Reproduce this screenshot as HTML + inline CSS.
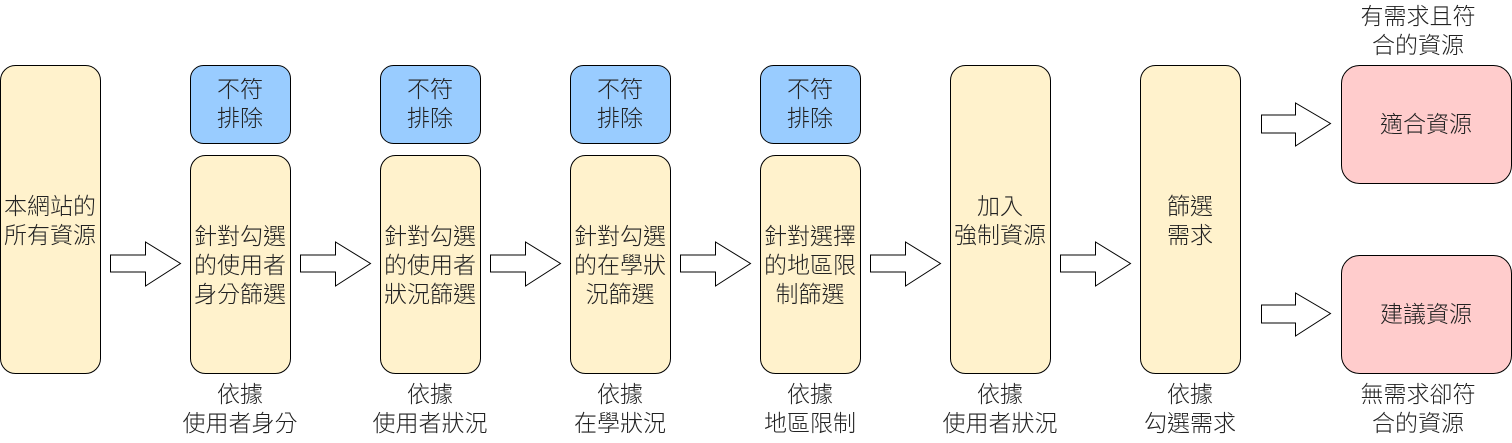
<!DOCTYPE html>
<html><head><meta charset="utf-8"><style>
html,body{margin:0;padding:0;background:#fff}
svg text{font-family:"Liberation Sans","Noto Sans CJK TC",sans-serif;font-size:23px;font-weight:300;fill:#222;text-anchor:middle}
</style></head><body>
<svg width="1512" height="438" viewBox="0 0 1512 438" xmlns="http://www.w3.org/2000/svg">
<g stroke="#000" stroke-width="1">
<rect x="0.5" y="65.5" width="100" height="308" rx="15" fill="#fff2cc"/>
<rect x="190.5" y="65.5" width="100" height="78" rx="13" fill="#99ccff"/>
<rect x="380.5" y="65.5" width="100" height="78" rx="13" fill="#99ccff"/>
<rect x="570.5" y="65.5" width="100" height="78" rx="13" fill="#99ccff"/>
<rect x="760.5" y="65.5" width="100" height="78" rx="13" fill="#99ccff"/>
<rect x="190.5" y="155.5" width="100" height="218" rx="15" fill="#fff2cc"/>
<rect x="380.5" y="155.5" width="100" height="218" rx="15" fill="#fff2cc"/>
<rect x="570.5" y="155.5" width="100" height="218" rx="15" fill="#fff2cc"/>
<rect x="760.5" y="155.5" width="100" height="218" rx="15" fill="#fff2cc"/>
<rect x="950.5" y="65.5" width="100" height="308" rx="15" fill="#fff2cc"/>
<rect x="1140.5" y="65.5" width="100" height="308" rx="15" fill="#fff2cc"/>
<rect x="1341.5" y="65.5" width="170" height="118" rx="18" fill="#ffcccc"/>
<rect x="1341.5" y="255.5" width="170" height="118" rx="18" fill="#ffcccc"/>
<g fill="#fff">
<polygon points="110.5,255 145.5,255 145.5,242 180.5,263.5 145.5,286 145.5,272 110.5,272"/>
<polygon points="300.5,255 335.5,255 335.5,242 370.5,263.5 335.5,286 335.5,272 300.5,272"/>
<polygon points="490.5,255 525.5,255 525.5,242 560.5,263.5 525.5,286 525.5,272 490.5,272"/>
<polygon points="680.5,255 715.5,255 715.5,242 750.5,263.5 715.5,286 715.5,272 680.5,272"/>
<polygon points="870.5,255 905.5,255 905.5,242 940.5,263.5 905.5,286 905.5,272 870.5,272"/>
<polygon points="1060.5,255 1095.5,255 1095.5,242 1130.5,263.5 1095.5,286 1095.5,272 1060.5,272"/>
<polygon points="1261.5,115 1295.5,115 1295.5,103 1330.5,123.5 1295.5,146 1295.5,133 1261.5,133"/>
<polygon points="1261.5,305 1295.5,305 1295.5,293 1330.5,313.5 1295.5,336 1295.5,323 1261.5,323"/>
</g></g>
<text x="50" y="214">本網站的</text><text x="50" y="243">所有資源</text>
<g>
<text x="240" y="97">不符</text><text x="240" y="126">排除</text>
<text x="430" y="97">不符</text><text x="430" y="126">排除</text>
<text x="620" y="97">不符</text><text x="620" y="126">排除</text>
<text x="810" y="97">不符</text><text x="810" y="126">排除</text>
</g>
<text x="240" y="244">針對勾選</text><text x="240" y="273">的使用者</text><text x="240" y="302">身分篩選</text>
<text x="430" y="244">針對勾選</text><text x="430" y="273">的使用者</text><text x="430" y="302">狀況篩選</text>
<text x="620" y="244">針對勾選</text><text x="620" y="273">的在學狀</text><text x="620" y="302">況篩選</text>
<text x="810" y="244">針對選擇</text><text x="810" y="273">的地區限</text><text x="810" y="302">制篩選</text>
<text x="1000" y="214">加入</text><text x="1000" y="243">強制資源</text>
<text x="1190" y="214">篩選</text><text x="1190" y="243">需求</text>
<text x="1426" y="132">適合資源</text>
<text x="1426" y="322">建議資源</text>
<text x="1418" y="24">有需求且符</text><text x="1418" y="53">合的資源</text>
<text x="1418" y="402">無需求卻符</text><text x="1418" y="431">合的資源</text>
<text x="240" y="402">依據</text><text x="240" y="431">使用者身分</text>
<text x="430" y="402">依據</text><text x="430" y="431">使用者狀況</text>
<text x="620" y="402">依據</text><text x="620" y="431">在學狀況</text>
<text x="810" y="402">依據</text><text x="810" y="431">地區限制</text>
<text x="1000" y="402">依據</text><text x="1000" y="431">使用者狀況</text>
<text x="1190" y="402">依據</text><text x="1190" y="431">勾選需求</text>
</svg>
</body></html>
